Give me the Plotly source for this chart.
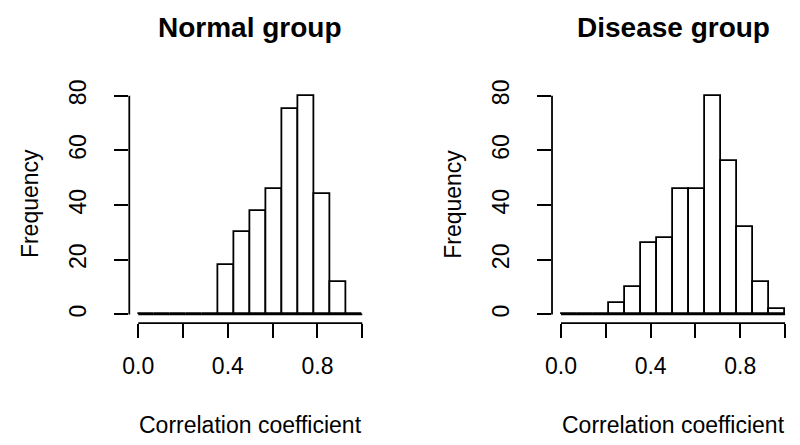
import plotly.graph_objects as go

# histogram breaks: seq(0, 1, length.out = 15)
bin_edges = [i / 14 for i in range(15)]

normal_counts = [0, 0, 0, 0, 0, 18, 30, 38, 46, 75, 80, 44, 12, 0]
disease_counts = [0, 0, 0, 4, 10, 26, 28, 46, 46, 80, 56, 32, 12, 2]

panel_titles = ["Normal group", "Disease group"]
x_title = "Correlation coefficient"
y_title = "Frequency"

x_tickvals = [0.0, 0.2, 0.4, 0.6, 0.8, 1.0]
x_ticktext = ["0.0", "", "0.4", "", "0.8", ""]
y_tickvals = [0, 20, 40, 60, 80]

# the page body has an 8px margin, so the figure is a bit smaller than the window
PAGE_OFF = 8
W, H = 800 - PAGE_OFF, 445 - PAGE_OFF
FONT = "Liberation Sans, Arial, sans-serif"
LW = 1.8


def px(v):
    return (v - PAGE_OFF) / W


def py(v):
    return 1 - (v - PAGE_OFF) / H


# plot regions in window pixels (left, right)
panels = [(123.3, 367.4), (549.8, 794.0)]
y_top, y_bot = 81.2, 321.2

bin_centers = [(a + b) / 2 for a, b in zip(bin_edges[:-1], bin_edges[1:])]
bin_width = bin_edges[1] - bin_edges[0]

fig = go.Figure()
annotations = []
shapes = []

for i, (counts, title) in enumerate(zip([normal_counts, disease_counts], panel_titles)):
    xa = "x" if i == 0 else "x2"
    ya = "y" if i == 0 else "y2"
    fig.add_trace(
        go.Bar(
            x=bin_centers,
            y=counts,
            width=bin_width,
            marker=dict(color="white", line=dict(color="black", width=LW)),
            xaxis=xa,
            yaxis=ya,
            showlegend=False,
            hoverinfo="x+y",
        )
    )
    # zero-height bars show as a baseline in R
    fig.add_trace(
        go.Scatter(
            x=[bin_edges[0], bin_edges[-1]],
            y=[0, 0],
            mode="lines",
            line=dict(color="black", width=LW),
            xaxis=xa,
            yaxis=ya,
            showlegend=False,
            hoverinfo="skip",
        )
    )
    left, right = panels[i]
    axis_common = dict(
        showgrid=False,
        zeroline=False,
        showline=False,
        ticks="outside",
        ticklen=14,
        tickwidth=LW,
        tickcolor="black",
        tickfont=dict(family=FONT, size=23, color="black"),
    )
    fig.layout[("xaxis" if i == 0 else "xaxis2")] = dict(
        domain=[px(left), px(right)],
        range=[-0.04, 1.04],
        anchor=ya,
        tickvals=x_tickvals,
        ticktext=x_ticktext,
        ticklabelstandoff=8,
        **axis_common,
    )
    fig.layout[("yaxis" if i == 0 else "yaxis2")] = dict(
        domain=[py(y_bot), py(y_top)],
        range=[-3.2, 83.2],
        anchor=xa,
        tickvals=y_tickvals,
        tickangle=-90,
        ticklabelstandoff=19,
        **axis_common,
    )
    # R-style axis lines that stop at the outer ticks
    shapes.append(dict(type="line", xref=xa, yref=ya + " domain",
                       x0=x_tickvals[0], x1=x_tickvals[-1], y0=0, y1=0,
                       line=dict(color="black", width=LW)))
    shapes.append(dict(type="line", xref=xa + " domain", yref=ya,
                       x0=0, x1=0, y0=y_tickvals[0], y1=y_tickvals[-1],
                       line=dict(color="black", width=LW)))

    cx = (left + right) / 2
    annotations.append(dict(text="<b>" + title + "</b>", x=px(cx), y=py(21),
                            xref="paper", yref="paper", showarrow=False,
                            xanchor="center", yanchor="middle",
                            font=dict(family=FONT, size=28, color="black")))
    annotations.append(dict(text=x_title, x=px(cx), y=py(425),
                            xref="paper", yref="paper", showarrow=False,
                            xanchor="center", yanchor="middle",
                            font=dict(family=FONT, size=23, color="black")))
    annotations.append(dict(text=y_title, x=px(left - 100), y=py(200),
                            xref="paper", yref="paper", showarrow=False,
                            textangle=-90, xanchor="center", yanchor="middle",
                            font=dict(family=FONT, size=23, color="black")))

fig.update_layout(
    width=W,
    height=H,
    margin=dict(l=0, r=0, t=0, b=0),
    paper_bgcolor="white",
    plot_bgcolor="white",
    bargap=0,
    annotations=annotations,
    shapes=shapes,
)

fig.write_html("out.html")
